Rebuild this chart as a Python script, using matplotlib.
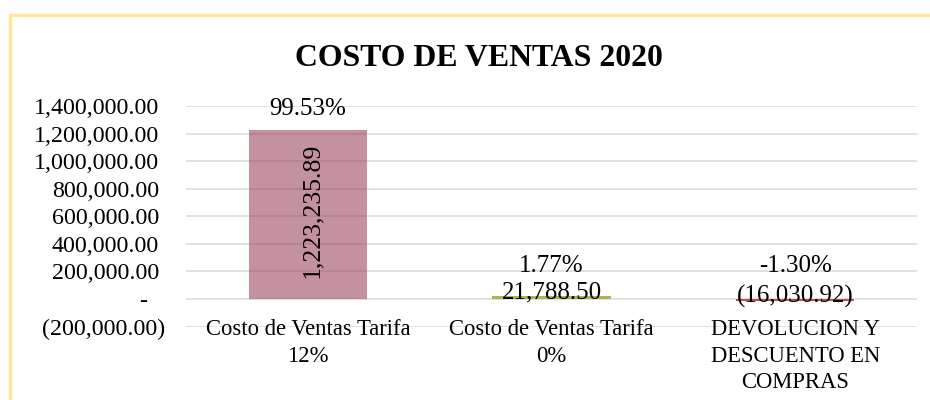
import matplotlib
matplotlib.use("Agg")
import matplotlib.pyplot as plt
from matplotlib.patches import Rectangle

categories = ["Costo de Ventas Tarifa\n12%", "Costo de Ventas Tarifa\n0%",
              "DEVOLUCION Y\nDESCUENTO EN\nCOMPRAS"]
values = [1223235.89, 21788.50, -16030.92]
percents = ["99.53%", "1.77%", "-1.30%"]
value_labels = ["1,223,235.89", "21,788.50", "(16,030.92)"]
yticks = [-200000, 0, 200000, 400000, 600000, 800000, 1000000, 1200000, 1400000]
title = "COSTO DE VENTAS 2020"

bar_colors = ["#9D485F", "#AEB34A", "#C0504D"]
bar_alpha = [0.6, 1.0, 1.0]

plt.rcParams['font.family'] = ['Liberation Serif', 'DejaVu Serif']

W, H = 930, 400
fig = plt.figure(figsize=(W / 100, H / 100), dpi=100)
fig.patch.set_facecolor("white")

# frame border (yellow)
fig.patches.append(Rectangle((10 / W, -0.1), 1.2, 1 - 15 / H + 0.1,
                             transform=fig.transFigure, fill=False,
                             edgecolor="#FFE699", linewidth=2.4, zorder=0))

left, right = 186 / W, 917 / W
top = 1 - 106 / H
bottom = 1 - 326.6 / H
ax = fig.add_axes([left, bottom, right - left, top - bottom])
ax.set_facecolor("none")
ax.set_xlim(-0.5, 2.5)
ax.set_ylim(-200000, 1400000)
ax.set_yticks(yticks)
ax.set_yticklabels([])
ax.set_xticks([])
ax.tick_params(axis='y', length=0)
for s in ax.spines.values():
    s.set_visible(False)
ax.grid(axis='y', color="#D9D9D9", linewidth=1.1, zorder=0)
ax.set_axisbelow(True)

for i, v in enumerate(values):
    ax.bar(i, v, width=0.485, color=bar_colors[i], alpha=bar_alpha[i],
           zorder=2, linewidth=0)


def px(p):
    return p * 72 / 100


# y tick labels, accounting format
for t in yticks:
    if t > 0:
        s, dx, ha = f"{t:,.2f}", -27, 'right'
    elif t < 0:
        s, dx, ha = f"({-t:,.2f})", -21, 'right'
    else:
        s, dx, ha = "-", -43, 'center'
    ax.annotate(s, xy=(0, t), xycoords=('axes fraction', 'data'),
                xytext=(px(dx), 0), textcoords='offset points',
                ha=ha, va='center_baseline', fontsize=17.3)

# category labels
for i, c in enumerate(categories):
    ax.annotate(c, xy=(i, 0), xycoords='data',
                xytext=(0, -px(20)), textcoords='offset points',
                ha='center', va='top', fontsize=16.3, linespacing=1.35,
                multialignment='center')

# data labels
for i, v in enumerate(values):
    if i == 0:
        ax.annotate(value_labels[i], xy=(i, v / 2), xycoords='data',
                    xytext=(px(2), px(4)), textcoords='offset points',
                    rotation=90, rotation_mode='anchor',
                    ha='center', va='center_baseline', fontsize=18.5)
        ax.annotate(percents[i], xy=(i, v), xycoords='data',
                    xytext=(0, px(24)), textcoords='offset points',
                    ha='center', va='center_baseline', fontsize=18)
    else:
        base = max(v, 0)
        off, poff = (6, 33) if v > 0 else (5, 36)
        ax.annotate(value_labels[i], xy=(i, base), xycoords='data',
                    xytext=(0, px(off)), textcoords='offset points',
                    ha='center', va='center_baseline', fontsize=18)
        ax.annotate(percents[i], xy=(i, base), xycoords='data',
                    xytext=(0, px(poff)), textcoords='offset points',
                    ha='center', va='center_baseline', fontsize=18)

fig.text(479 / W, 1 - 58 / H, title, ha='center', va='center',
         fontsize=22.9, fontweight='bold')

fig.savefig("out.png", dpi=100, facecolor="white")
